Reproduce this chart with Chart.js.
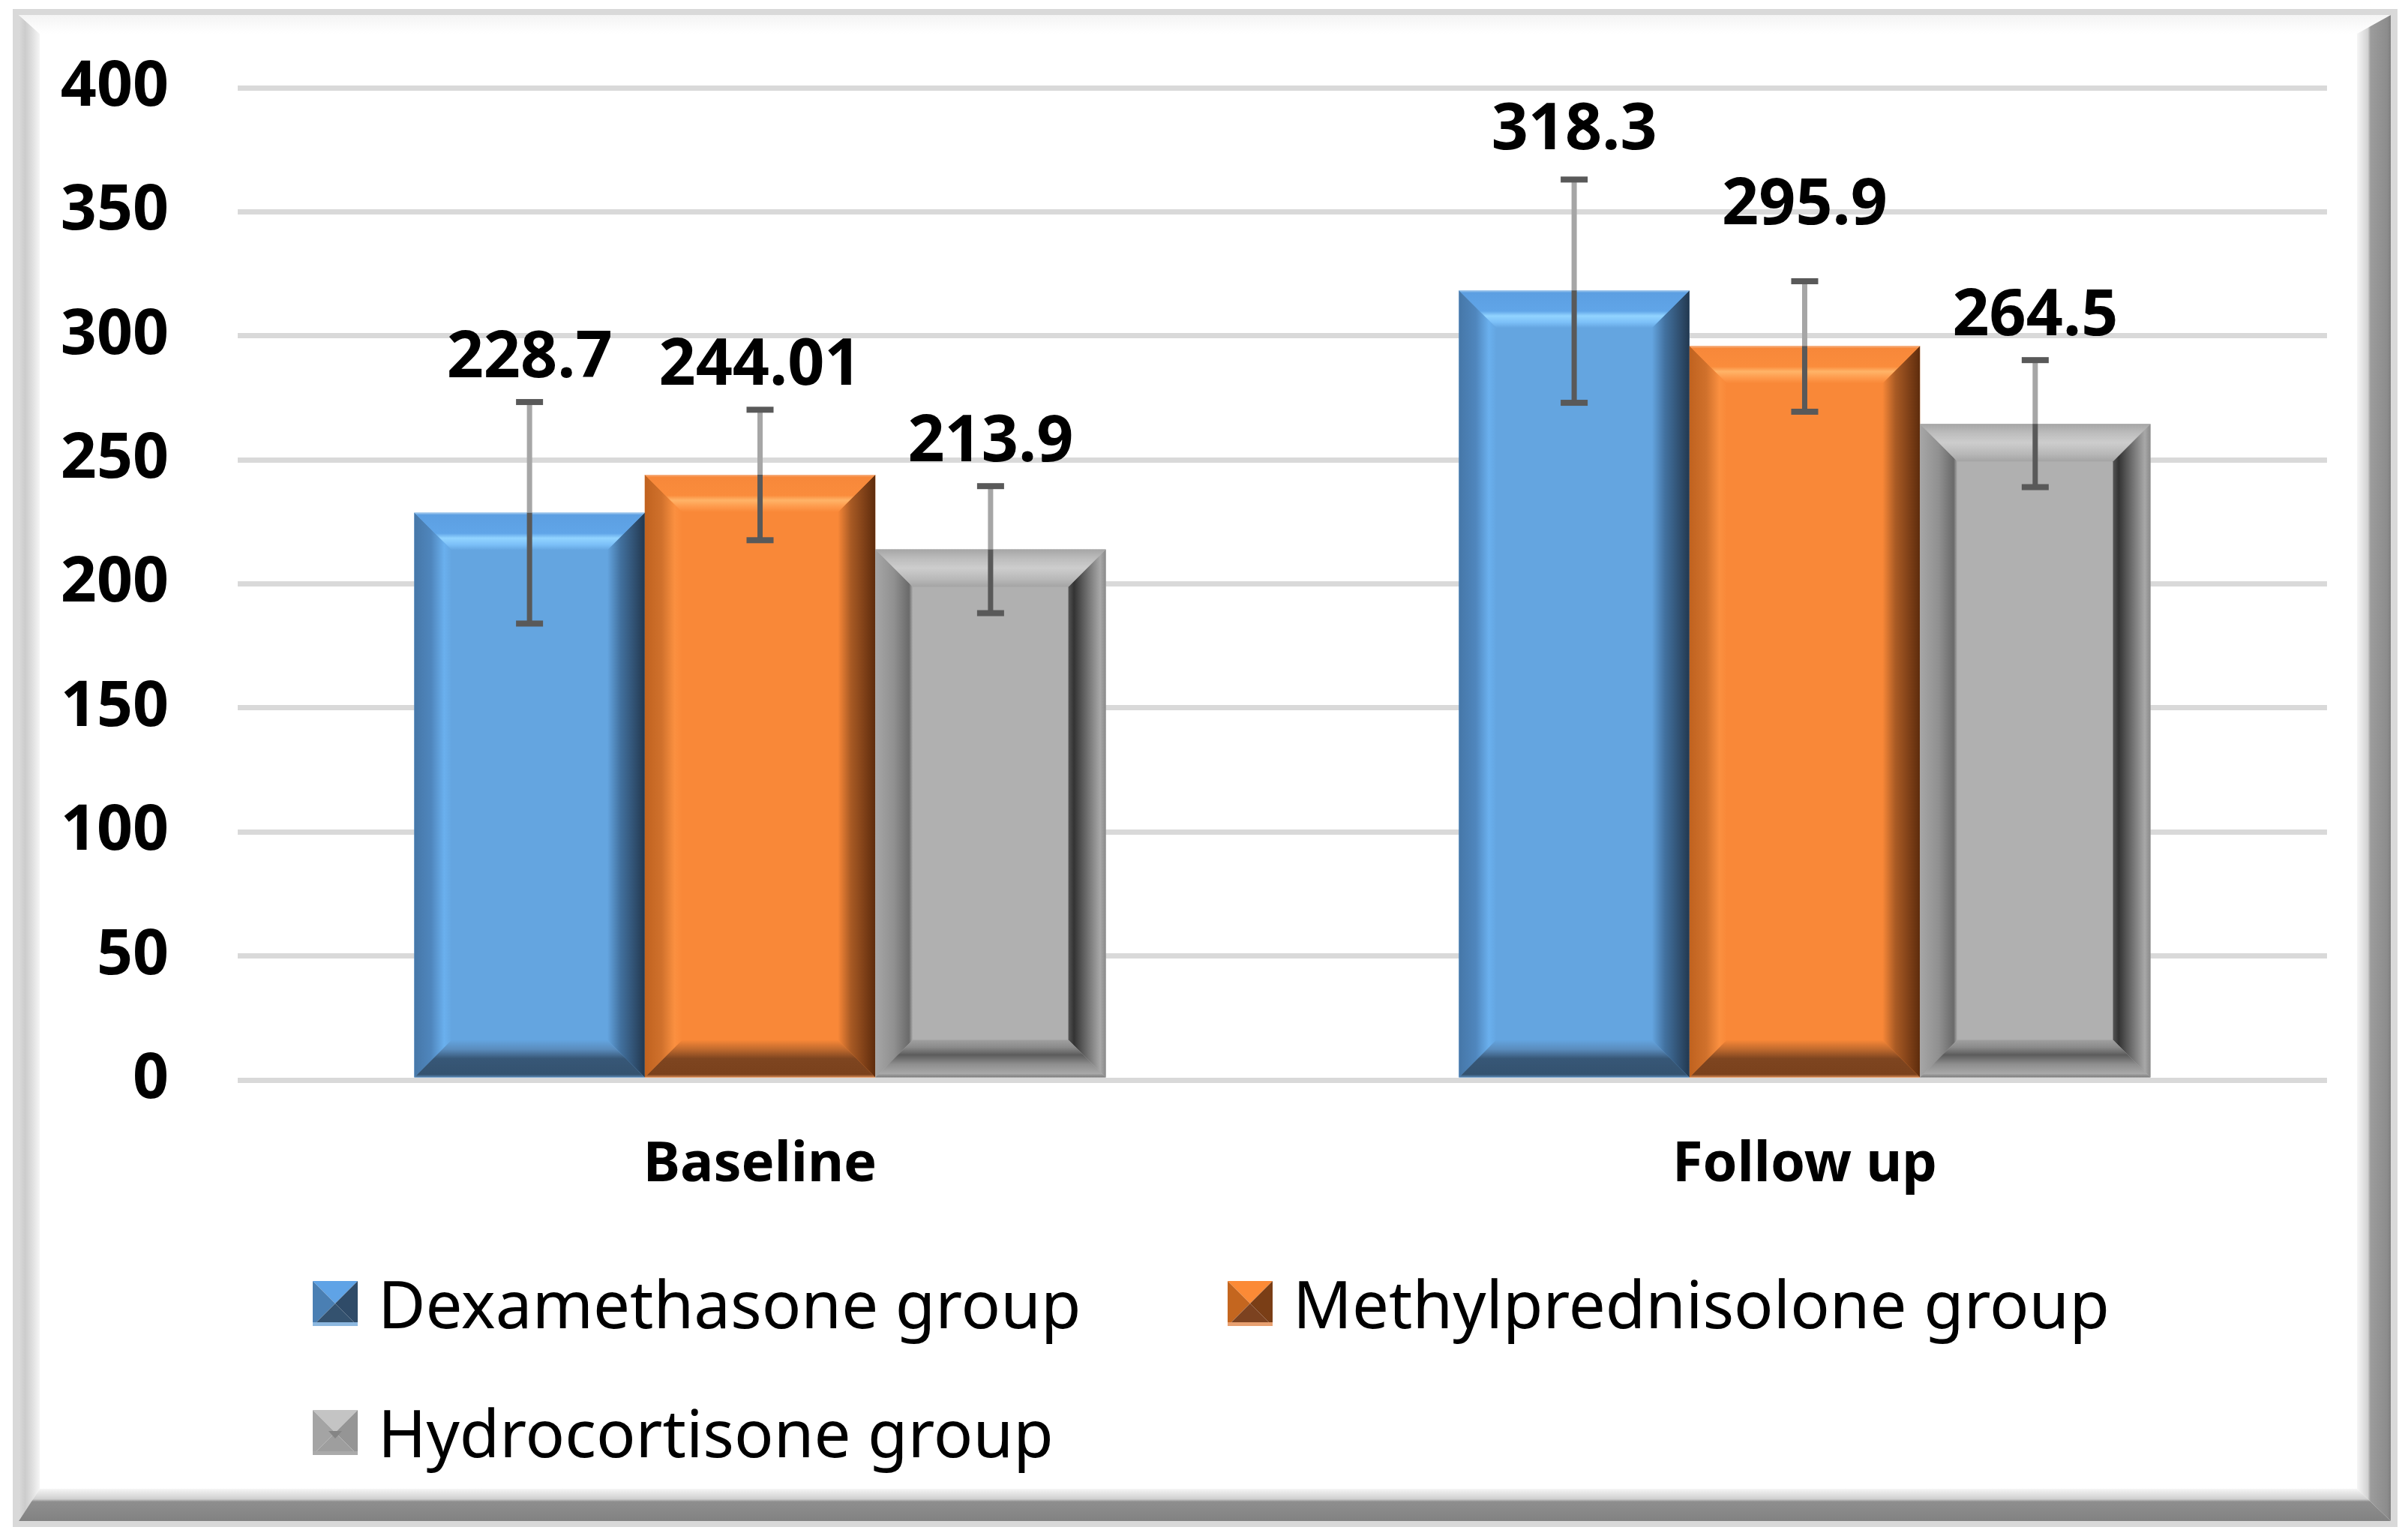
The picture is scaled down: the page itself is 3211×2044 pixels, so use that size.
<!DOCTYPE html>
<html><head><meta charset="utf-8">
<script src="https://cdn.jsdelivr.net/npm/chart.js@4.4.1/dist/chart.umd.min.js"></script>
<style>html,body{margin:0;padding:0;background:#fff;overflow:hidden}canvas{display:block}</style>
</head><body>
<canvas id="c" width="3211" height="2044" style="width:3211px;height:2044px"></canvas>
<script>
// ---------- data ----------
const categories = ['Baseline', 'Follow up'];
const seriesNames = ['Dexamethasone group', 'Methylprednisolone group', 'Hydrocortisone group'];
const dexamethasone = [228.7, 318.3];
const methylprednisolone = [244.01, 295.9];
const hydrocortisone = [213.9, 264.5];
const dexamethasoneErrLow = [184.0, 273.0];
const dexamethasoneErrHigh = [273.3, 363.0];
const methylprednisoloneErrLow = [217.6, 269.4];
const methylprednisoloneErrHigh = [270.2, 322.0];
const hydrocortisoneErrLow = [188.2, 239.0];
const hydrocortisoneErrHigh = [239.4, 290.2];
const yTickValues = [0, 50, 100, 150, 200, 250, 300, 350, 400];

// ---------- styles ----------
const FONT = "'Noto Sans', 'DejaVu Sans', sans-serif";
const bevelStyles = [
  { face: '#64A5E0',
    top: [[0,'#A9CDEE'],[0.06,'#5C9FE2'],[0.55,'#60A5E8'],[0.68,'#92D4FF'],[0.85,'#7CC0F8'],[1,'#64A5E0']],
    left: [[0,'#4677A8'],[0.45,'#4F86BD'],[0.8,'#6AB0EE'],[1,'#64A5E0']],
    right: [[0,'#22384F'],[0.25,'#2F4E6E'],[0.65,'#42719F'],[1,'#64A5E0']],
    bottom: [[0,'#5A88B5'],[0.08,'#34526F'],[0.5,'#375777'],[0.75,'#5A8CBD'],[1,'#64A5E0']],
    sw: { top:'#5FA3E6', left:'#4A7FB3', right:'#2F4B68', bottom:'#34526F', edge:'#8DB8E0' } },
  { face: '#F98838',
    top: [[0,'#F5B890'],[0.06,'#F7883A'],[0.55,'#FA8C3C'],[0.68,'#FFB468'],[0.85,'#FE9A4C'],[1,'#F98838']],
    left: [[0,'#C0621F'],[0.45,'#D0712C'],[0.8,'#FB9040'],[1,'#F98838']],
    right: [[0,'#5E2C0C'],[0.25,'#7A3D16'],[0.65,'#A85A24'],[1,'#F98838']],
    bottom: [[0,'#D58A55'],[0.08,'#7A411C'],[0.5,'#7E4520'],[0.75,'#C06A2E'],[1,'#F98838']],
    sw: { top:'#FB8A36', left:'#C4661F', right:'#7A3E16', bottom:'#7C4220', edge:'#E8A070' } },
  { face: '#B0B0B0',
    top: [[0,'#A6A6A6'],[0.25,'#BDBDBD'],[0.5,'#CDCDCD'],[0.8,'#B8B8B8'],[1,'#A4A4A4']],
    left: [[0,'#A6A6A6'],[0.5,'#909090'],[0.9,'#6A6A6A'],[1,'#AFAFAF']],
    right: [[0,'#8A8A8A'],[0.15,'#A8A8A8'],[0.5,'#6E6E6E'],[0.85,'#333333'],[1,'#555555']],
    bottom: [[0,'#7A7A7A'],[0.1,'#A8A8A8'],[0.35,'#8E8E8E'],[0.6,'#5C5C5C'],[0.8,'#8A8A8A'],[1,'#A0A0A0']],
    sw: { top:'#C4C4C4', left:'#A4A4A4', right:'#959595', bottom:'#9E9E9E', edge:'#AAAAAA', center:'#858585' } }
];

const errLows = [dexamethasoneErrLow, methylprednisoloneErrLow, hydrocortisoneErrLow];
const errHighs = [dexamethasoneErrHigh, methylprednisoloneErrHigh, hydrocortisoneErrHigh];

function grad(ctx, x0, y0, x1, y1, stops) {
  const g = ctx.createLinearGradient(x0, y0, x1, y1);
  stops.forEach(s => g.addColorStop(s[0], s[1]));
  return g;
}
function poly(ctx, pts, fill) {
  ctx.beginPath();
  ctx.moveTo(pts[0][0], pts[0][1]);
  for (let i = 1; i < pts.length; i++) ctx.lineTo(pts[i][0], pts[i][1]);
  ctx.closePath();
  ctx.fillStyle = fill;
  ctx.fill();
}

const framePlugin = {
  id: 'frame',
  beforeDraw(chart) {
    const ctx = chart.ctx;
    ctx.save();
    ctx.fillStyle = '#FFFFFF';
    ctx.fillRect(0, 0, chart.width, chart.height);
    const oL = 17, oT = 12, oR = 3197, oB = 2036;
    ctx.fillStyle = '#D9D9D9';
    ctx.fillRect(oL, oT, oR - oL, oB - oT);
    const L = 25, T = 20, R = 3188, B = 2028, bl = 28, bt = 25, br = 45, bb = 43;
    ctx.fillStyle = '#FFFFFF';
    ctx.fillRect(L, T, R - L, B - T);
    poly(ctx, [[L,T],[L+bl,T+bt],[L+bl,B-bb],[L,B]], grad(ctx, L, 0, L+bl, 0, [[0,'#DADADA'],[0.3,'#CCCCCC'],[0.6,'#DCDCDC'],[1,'#F6F6F6']]));
    poly(ctx, [[L,T],[R,T],[R-br,T+bt],[L+bl,T+bt]], grad(ctx, 0, T, 0, T+bt, [[0,'#F4F4F4'],[1,'#FFFFFF']]));
    poly(ctx, [[R,T],[R,B],[R-br,B-bb],[R-br,T+bt]], grad(ctx, R, 0, R-br, 0, [[0,'#7E7E7E'],[0.1,'#8C8C8C'],[0.6,'#9C9C9C'],[0.68,'#D2D2D2'],[1,'#F6F6F6']]));
    poly(ctx, [[L,B],[R,B],[R-br,B-bb],[L+bl,B-bb]], grad(ctx, 0, B, 0, B-bb, [[0,'#828282'],[0.6,'#8E8E8E'],[0.68,'#CFCFCF'],[1,'#F6F6F6']]));
    ctx.restore();
  }
};

const barDecorPlugin = {
  id: 'barDecor',
  afterDatasetsDraw(chart) {
    const ctx = chart.ctx;
    const ys = chart.scales.y;
    const b = 50;
    ctx.save();
    chart.data.datasets.forEach((ds, i) => {
      const st = bevelStyles[i];
      chart.getDatasetMeta(i).data.forEach((el, j) => {
        const L = el.x - el.width / 2, R = el.x + el.width / 2, T = el.y, B = el.base;
        poly(ctx, [[L,T],[L+b,T+b],[L+b,B-b],[L,B]], grad(ctx, L, 0, L+b, 0, st.left));
        poly(ctx, [[R,T],[R-b,T+b],[R-b,B-b],[R,B]], grad(ctx, R, 0, R-b, 0, st.right));
        poly(ctx, [[L,T],[R,T],[R-b,T+b],[L+b,T+b]], grad(ctx, 0, T, 0, T+b, st.top));
        poly(ctx, [[L,B],[R,B],[R-b,B-b],[L+b,B-b]], grad(ctx, 0, B, 0, B-b, st.bottom));
      });
    });
    chart.data.datasets.forEach((ds, i) => {
      chart.getDatasetMeta(i).data.forEach((el, j) => {
        const yHi = ys.getPixelForValue(errHighs[i][j]);
        const yLo = ys.getPixelForValue(errLows[i][j]);
        const x = el.x;
        ctx.fillStyle = '#A6A6A6';
        if (yHi < el.y) ctx.fillRect(x - 3.5, yHi, 7, el.y - yHi);
        ctx.fillStyle = '#595959';
        const top = Math.max(yHi, el.y);
        if (yLo > top) ctx.fillRect(x - 3.5, top, 7, yLo - top);
        ctx.fillRect(x - 18, yHi - 4, 36, 8);
        ctx.fillRect(x - 18, yLo - 4, 36, 8);
      });
    });
    ctx.font = 'bold 86px ' + FONT;
    ctx.fillStyle = '#000000';
    ctx.textAlign = 'center';
    ctx.textBaseline = 'alphabetic';
    const lift = chart.options.plugins.barDecor.extraLift;
    chart.data.datasets.forEach((ds, i) => {
      chart.getDatasetMeta(i).data.forEach((el, j) => {
        const yHi = ys.getPixelForValue(errHighs[i][j]);
        const extra = (lift[i] && lift[i][j]) || 0;
        const capCenter = yHi - 64 - extra;
        ctx.fillText(String(ds.data[j]), el.x, capCenter + 31);
      });
    });
    ctx.restore();
  }
};

const legendPlugin = {
  id: 'xlLegend',
  afterDraw(chart) {
    const ctx = chart.ctx;
    const o = chart.options.plugins.xlLegend;
    ctx.save();
    ctx.font = o.size + 'px ' + FONT;
    ctx.textAlign = 'left';
    ctx.textBaseline = 'alphabetic';
    chart.data.datasets.forEach((ds, i) => {
      const col = i % 2, row = Math.floor(i / 2);
      const x = o.cols[col], y = o.rows[row], s = o.box;
      const sw = bevelStyles[i].sw;
      const cx = x + s / 2, cy = y + s / 2;
      poly(ctx, [[x,y],[x+s,y],[cx,cy]], sw.top);
      poly(ctx, [[x,y],[cx,cy],[x,y+s]], sw.left);
      poly(ctx, [[x+s,y],[x+s,y+s],[cx,cy]], sw.right);
      poly(ctx, [[x,y+s],[x+s,y+s],[cx,cy]], sw.bottom);
      if (sw.center) poly(ctx, [[cx-9,cy-2],[cx+9,cy-2],[cx,cy+8]], sw.center);
      ctx.fillStyle = sw.edge;
      ctx.fillRect(x, y + s - 5, s, 5);
      ctx.fillStyle = '#000000';
      ctx.fillText(ds.label, x + o.textGap, cy + 33);
    });
    ctx.restore();
  }
};

function build() {
  new Chart(document.getElementById('c'), {
    type: 'bar',
    data: {
      labels: categories,
      datasets: [
        { label: seriesNames[0], data: dexamethasone, backgroundColor: bevelStyles[0].face },
        { label: seriesNames[1], data: methylprednisolone, backgroundColor: bevelStyles[1].face },
        { label: seriesNames[2], data: hydrocortisone, backgroundColor: bevelStyles[2].face }
      ]
    },
    options: {
      responsive: false,
      devicePixelRatio: 1,
      animation: false,
      layout: { padding: { left: 0, right: 108, top: 117, bottom: 404 } },
      datasets: { bar: { categoryPercentage: 0.662, barPercentage: 1.0, borderWidth: 0 } },
      plugins: {
        legend: { display: false },
        tooltip: { enabled: false },
        barDecor: { extraLift: { 0: { 1: 7 }, 1: { 1: 43 } } },
        xlLegend: { size: 87, box: 60, textGap: 87, cols: [417, 1637], rows: [1708, 1880] }
      },
      scales: {
        x: {
          grid: { display: false },
          border: { display: false },
          ticks: { color: '#000000', font: { family: FONT, size: 74, weight: 'bold' }, padding: 62 },
          afterFit(s) { s.height = 200; s.paddingLeft = 0; s.paddingRight = 0; }
        },
        y: {
          min: 0, max: 400,
          afterBuildTicks(s) { s.ticks = yTickValues.map(v => ({ value: v })); },
          ticks: { color: '#000000', font: { family: FONT, size: 84, weight: 'bold' }, padding: 92 },
          grid: { color: '#D9D9D9', lineWidth: 7, drawTicks: false },
          border: { display: false },
          afterFit(s) { s.width = 317; s.paddingTop = 0; s.paddingBottom = 0; }
        }
      }
    },
    plugins: [framePlugin, barDecorPlugin, legendPlugin]
  });
}
Promise.all([
  document.fonts.load("86px 'Noto Sans'"),
  document.fonts.load("bold 86px 'Noto Sans'")
]).then(build, build);
</script>
</body></html>
